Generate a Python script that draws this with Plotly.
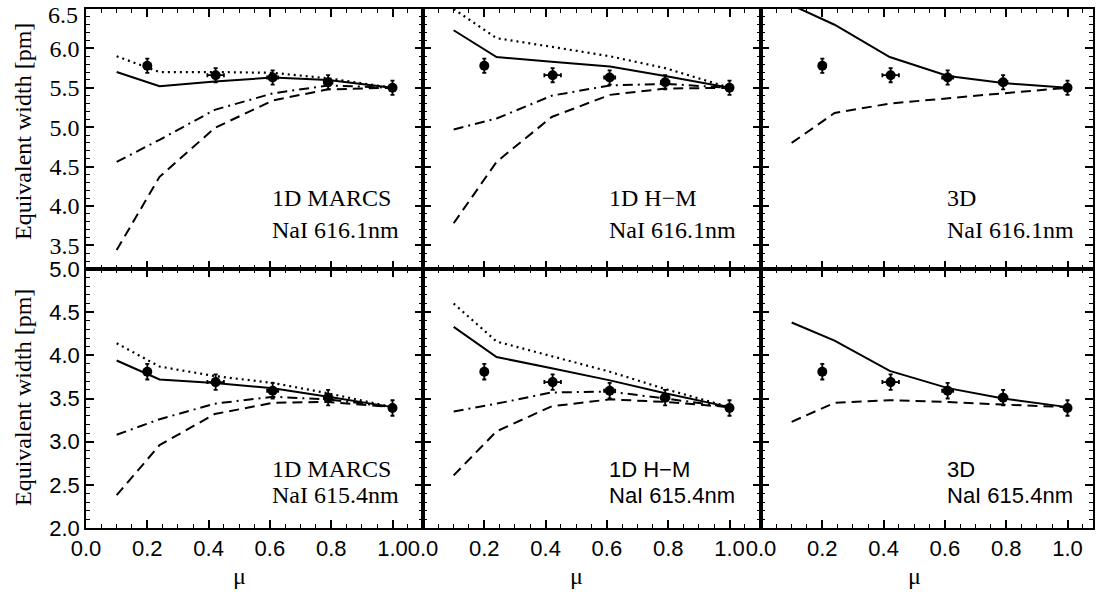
import plotly.graph_objects as go
from plotly.subplots import make_subplots

# ---------------- data ----------------
mu_model = [0.1, 0.24, 0.42, 0.61, 0.79, 1.0]
mu_obs = [0.2, 0.423, 0.609, 0.79, 1.0]
mu_obs_err = [0.01, 0.027, 0.018, 0.014, 0.0]

obs_6161 = [5.78, 5.66, 5.63, 5.57, 5.50]
obs_6161_err = [0.09, 0.09, 0.09, 0.09, 0.09]
obs_6154 = [3.81, 3.69, 3.59, 3.51, 3.39]
obs_6154_err = [0.09, 0.09, 0.09, 0.09, 0.09]

# 1D MARCS, NaI 616.1nm
marcs_6161_solid = [5.70, 5.52, 5.58, 5.63, 5.60, 5.50]
marcs_6161_dot = [5.90, 5.70, 5.70, 5.69, 5.62, 5.50]
marcs_6161_dashdot = [4.56, 4.84, 5.22, 5.43, 5.53, 5.50]
marcs_6161_dash = [3.44, 4.37, 4.99, 5.34, 5.48, 5.50]
# 1D H-M, NaI 616.1nm
hm_6161_solid = [6.23, 5.89, 5.83, 5.77, 5.65, 5.50]
hm_6161_dot = [6.50, 6.13, 6.02, 5.90, 5.75, 5.50]
hm_6161_dashdot = [4.97, 5.11, 5.40, 5.53, 5.55, 5.50]
hm_6161_dash = [3.78, 4.56, 5.13, 5.41, 5.49, 5.50]
# 3D, NaI 616.1nm
d3_6161_solid = [6.55, 6.30, 5.89, 5.65, 5.56, 5.50]
d3_6161_dash = [4.80, 5.18, 5.30, 5.37, 5.43, 5.50]

# 1D MARCS, NaI 615.4nm
marcs_6154_solid = [3.94, 3.72, 3.68, 3.62, 3.52, 3.40]
marcs_6154_dot = [4.14, 3.87, 3.76, 3.68, 3.56, 3.40]
marcs_6154_dashdot = [3.08, 3.26, 3.44, 3.52, 3.49, 3.40]
marcs_6154_dash = [2.38, 2.96, 3.32, 3.45, 3.46, 3.40]
# 1D H-M, NaI 615.4nm
hm_6154_solid = [4.33, 3.98, 3.85, 3.71, 3.56, 3.40]
hm_6154_dot = [4.60, 4.16, 3.99, 3.81, 3.61, 3.40]
hm_6154_dashdot = [3.35, 3.44, 3.57, 3.58, 3.50, 3.40]
hm_6154_dash = [2.61, 3.12, 3.41, 3.49, 3.46, 3.40]
# 3D, NaI 615.4nm
d3_6154_solid = [4.38, 4.17, 3.82, 3.62, 3.50, 3.40]
d3_6154_dash = [3.23, 3.45, 3.48, 3.46, 3.43, 3.40]

x_tick_step = 0.2
x_minor_step = 0.05
y_tick_step = 0.5
y_minor_step = 0.1
top_edge_label = "6.5"

labels_top = ["1D MARCS", "1D H\u2212M", "3D"]
labels_bot = ["1D MARCS", "1D H\u2212M", "3D"]
line_top = "NaI 616.1nm"
line_bot = "NaI 615.4nm"

# ---------------- styling ----------------
W, H = 1096, 592
SERIF = "Liberation Serif"
SANS = "Liberation Sans"
DASH = "10px,6px"
DOT = "2px,4px"
DASHDOT = "10px,5px,2px,5px"

fig = make_subplots(rows=2, cols=3)

panels_top = [
    [(marcs_6161_solid, "solid"), (marcs_6161_dot, DOT), (marcs_6161_dashdot, DASHDOT), (marcs_6161_dash, DASH)],
    [(hm_6161_solid, "solid"), (hm_6161_dot, DOT), (hm_6161_dashdot, DASHDOT), (hm_6161_dash, DASH)],
    [(d3_6161_solid, "solid"), (d3_6161_dash, DASH)],
]
panels_bot = [
    [(marcs_6154_solid, "solid"), (marcs_6154_dot, DOT), (marcs_6154_dashdot, DASHDOT), (marcs_6154_dash, DASH)],
    [(hm_6154_solid, "solid"), (hm_6154_dot, DOT), (hm_6154_dashdot, DASHDOT), (hm_6154_dash, DASH)],
    [(d3_6154_solid, "solid"), (d3_6154_dash, DASH)],
]

def add_panel(row, col, series, obs, obs_err):
    for ys, dash in series:
        fig.add_trace(go.Scatter(x=mu_model, y=ys, mode="lines",
                                 line=dict(color="black", width=2 if dash != DOT else 2.2, dash=dash),
                                 showlegend=False, hoverinfo="skip"), row=row, col=col)
    fig.add_trace(go.Scatter(x=mu_obs, y=obs, mode="markers",
                             marker=dict(color="black", size=10, symbol="circle"),
                             error_y=dict(type="data", array=obs_err, color="black", thickness=1.8, width=2),
                             error_x=dict(type="data", array=mu_obs_err, color="black", thickness=1.8, width=2),
                             showlegend=False), row=row, col=col)

for c in range(3):
    add_panel(1, c + 1, panels_top[c], obs_6161, obs_6161_err)
    add_panel(2, c + 1, panels_bot[c], obs_6154, obs_6154_err)

# pixel geometry
xl = [86, 423, 761]
xr = [423, 761, 1093]
ytop = [9, 269]
ybot = [269, 528]
pxu = 306.5

def px_to_paper_x(p):
    return p / W

def py_to_paper_y(p):
    return 1 - p / H

axis_common = dict(showline=True, linecolor="black", linewidth=1.5, mirror="allticks",
                   ticks="inside", ticklen=8, tickwidth=1.5, tickcolor="black",
                   showgrid=False, zeroline=False, automargin=False)

for r in range(2):
    for c in range(3):
        idx = r * 3 + c + 1
        xs = "xaxis" if idx == 1 else f"xaxis{idx}"
        ys = "yaxis" if idx == 1 else f"yaxis{idx}"
        xmax = (xr[c] - xl[c]) / pxu
        xa = dict(axis_common)
        xa.update(domain=[px_to_paper_x(xl[c]), px_to_paper_x(xr[c])], range=[0, xmax],
                  tickmode="linear", tick0=0, dtick=x_tick_step, tickformat=".1f",
                  minor=dict(ticks="inside", ticklen=4, tickwidth=1.2, tickcolor="black",
                             dtick=x_minor_step, tick0=0, showgrid=False),
                  showticklabels=(r == 1),
                  tickfont=dict(family=SANS, size=22, color="black"))
        yr = ytop if r == 0 else ybot
        ya = dict(axis_common)
        ya.update(domain=[py_to_paper_y(yr[1]), py_to_paper_y(yr[0])],
                  range=[3.2, 6.5] if r == 0 else [2.0, 5.0],
                  tickmode="linear", tick0=0, dtick=y_tick_step, tickformat=".1f",
                  minor=dict(ticks="inside", ticklen=4, tickwidth=1.2, tickcolor="black",
                             dtick=y_minor_step, tick0=0, showgrid=False),
                  showticklabels=(c == 0),
                  tickfont=dict(family=SERIF if r == 0 else SANS, size=24 if r == 0 else 22, color="black"))
        fig.layout[xs].update(xa)
        fig.layout[ys].update(ya)

annotations = []
# top-edge y tick label (hidden by plotly because it would overflow the page)
annotations.append(dict(x=px_to_paper_x(80), xref="paper", y=py_to_paper_y(15), yref="paper",
                        text=top_edge_label, showarrow=False, xanchor="right", yanchor="middle",
                        font=dict(family=SERIF, size=24, color="black")))

# panel labels
top_label_y = [198, 230]
bot_label_y = [469, 495]
for c in range(3):
    idx = c + 1
    xref = "x" if idx == 1 else f"x{idx}"
    annotations.append(dict(x=0.6, xref=xref, y=py_to_paper_y(top_label_y[0]), yref="paper",
                            text=labels_top[c], showarrow=False, xanchor="left", yanchor="middle",
                            font=dict(family=SERIF, size=24, color="black")))
    annotations.append(dict(x=0.6, xref=xref, y=py_to_paper_y(top_label_y[1]), yref="paper",
                            text=line_top, showarrow=False, xanchor="left", yanchor="middle",
                            font=dict(family=SERIF, size=24, color="black")))
    idx2 = c + 4
    xref2 = f"x{idx2}"
    fam = SERIF if c == 0 else SANS
    fsz = 24 if c == 0 else 22
    annotations.append(dict(x=0.6, xref=xref2, y=py_to_paper_y(bot_label_y[0]), yref="paper",
                            text=labels_bot[c], showarrow=False, xanchor="left", yanchor="middle",
                            font=dict(family=fam, size=fsz, color="black")))
    annotations.append(dict(x=0.6, xref=xref2, y=py_to_paper_y(bot_label_y[1]), yref="paper",
                            text=line_bot, showarrow=False, xanchor="left", yanchor="middle",
                            font=dict(family=fam, size=fsz, color="black")))
    # mu axis label
    annotations.append(dict(x=0.5, xref=xref2, y=py_to_paper_y(576), yref="paper",
                            text="\u03bc", showarrow=False, xanchor="center", yanchor="middle",
                            font=dict(family=SERIF, size=24, color="black")))

# y-axis titles
for yc in [132, 398]:
    annotations.append(dict(x=px_to_paper_x(23), xref="paper", y=py_to_paper_y(yc), yref="paper",
                            text="Equivalent width [pm]", showarrow=False, textangle=-90,
                            xanchor="center", yanchor="middle",
                            font=dict(family=SERIF, size=24, color="black")))

fig.update_layout(template="none", width=W, height=H, margin=dict(l=0, r=0, t=0, b=0, pad=0),
                  paper_bgcolor="white", plot_bgcolor="white",
                  annotations=annotations, showlegend=False)

fig.write_html("out.html")
